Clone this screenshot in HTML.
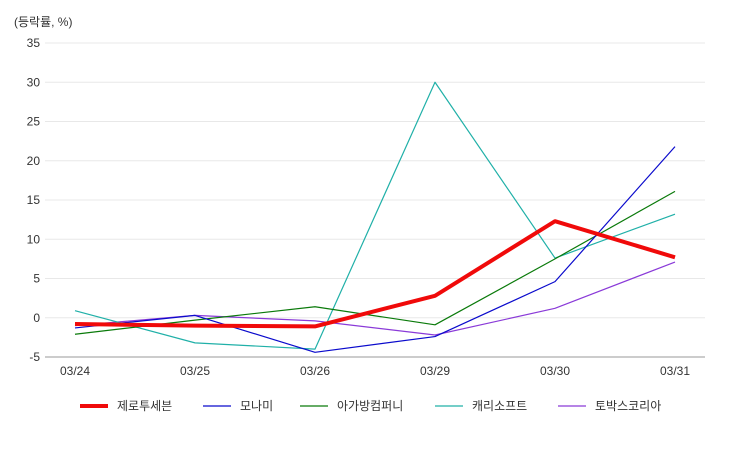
<!DOCTYPE html>
<html><head><meta charset="utf-8"><style>
body{margin:0;background:#fff;}
svg text{font-family:"Liberation Sans","Noto Sans CJK KR",sans-serif;}
</style></head><body>
<svg id="chart" width="750" height="450" xmlns="http://www.w3.org/2000/svg">
<text x="14" y="26" font-size="12" fill="#333">(등락률, %)</text>
<g id="grid"></g><g id="series"></g><g id="legend"></g>
</svg>
<script>
const categories=["03/24","03/25","03/26","03/29","03/30","03/31"];
const yTicks=[35,30,25,20,15,10,5,0,-5];
const seriesNames=["제로투세븐","모나미","아가방컴퍼니","캐리소프트","토박스코리아"];
const s0=[-0.8,-1.0,-1.1,2.8,12.3,7.7];
const s1=[-1.3,0.3,-4.4,-2.4,4.6,21.8];
const s2=[-2.1,-0.3,1.4,-0.9,7.5,16.1];
const s3=[0.9,-3.2,-4.0,30.0,7.6,13.2];
const s4=[-1.0,0.3,-0.4,-2.2,1.2,7.1];
const seriesData=[s0,s1,s2,s3,s4];
const colors=["#f00a0a","#0a0acc","#0a7a0a","#20b0a8","#8a3ad8"];
const widths=[4,1.2,1.2,1.2,1.2];
const NS="http://www.w3.org/2000/svg";
const xS=i=>75+i*120;
const yS=v=>43+(35-v)*7.85;
function mk(t,a,p){const e=document.createElementNS(NS,t);for(const k in a)e.setAttribute(k,a[k]);p.appendChild(e);return e;}
const grid=document.getElementById('grid');
yTicks.forEach(v=>{
 const l=mk('line',{x1:45,x2:705,y1:yS(v),y2:yS(v),stroke:v===-5?'#bbb':'#e8e8e8','stroke-width':v===-5?1.5:1},grid);
 
 
 const t=mk('text',{x:40,y:yS(v)+4,'font-size':12,fill:'#333','text-anchor':'end'},grid);
 t.textContent=v;
 
 
});
categories.forEach((c,i)=>{
 const t=mk('text',{x:xS(i),y:375,'font-size':12,fill:'#333','text-anchor':'middle'},grid);
 t.textContent=c;
 
 
});
const sg=document.getElementById('series');
[4,3,2,1,0].forEach(k=>{
 const p=mk('polyline',{points:seriesData[k].map((v,i)=>xS(i)+','+yS(v)).join(' '),fill:'none',stroke:colors[k],'stroke-width':widths[k],'stroke-linejoin':'round'},sg);
 
 
});
const lg=document.getElementById('legend');
const lx=[80,203,300,435,558];
seriesNames.forEach((n,k)=>{
 const g=mk('g',{},lg);
 
 
 mk('line',{x1:lx[k],x2:lx[k]+28,y1:406,y2:406,stroke:colors[k],'stroke-width':widths[k]},g);
 const t=mk('text',{x:lx[k]+37,y:410,'font-size':12,fill:'#333'},g);
 t.textContent=n;
});
</script>
</body></html>
